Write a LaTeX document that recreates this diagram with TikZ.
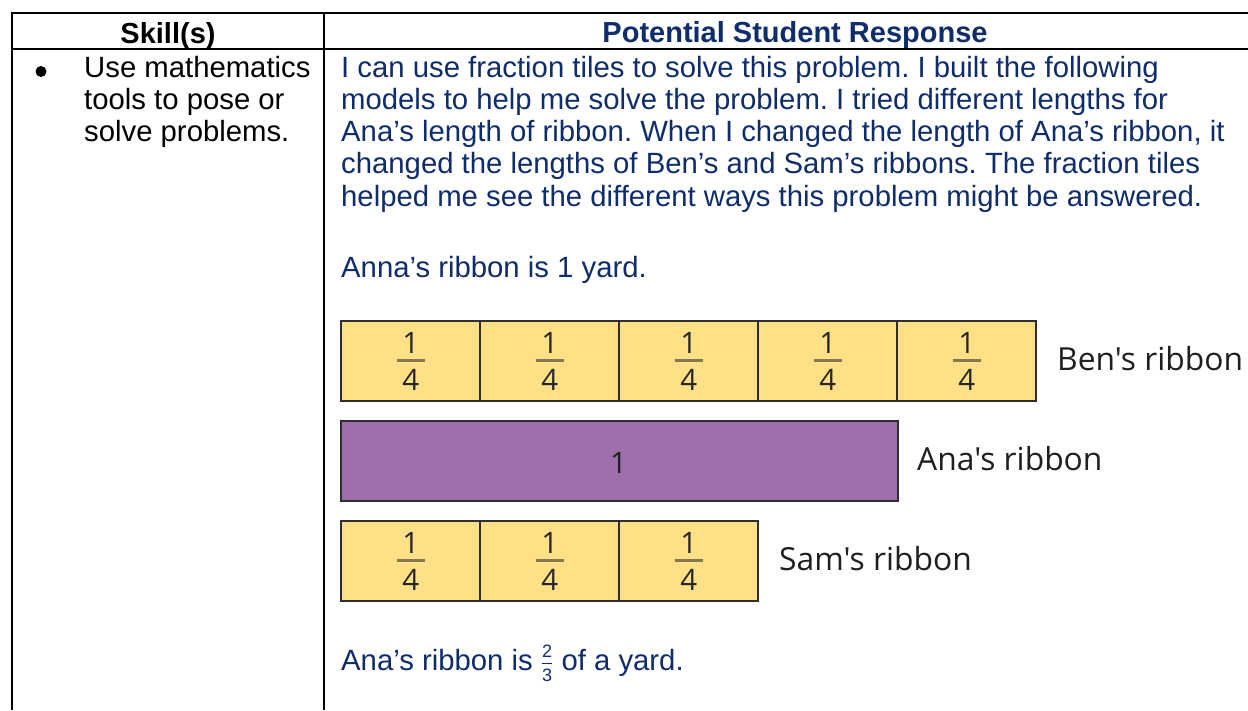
\documentclass[tikz,border=0pt]{standalone}
\usepackage{fontspec}
\usepackage{amsmath}
\setmainfont{Liberation Sans}
\newfontfamily\tilefont[Ligatures=TeXOff]{Open Sans}
\usetikzlibrary{calc}
\frenchspacing
\definecolor{navy}{HTML}{0F2C6B}
\definecolor{tileyellow}{HTML}{FFE086}
\definecolor{ribbonpurple}{HTML}{9F6FAD}
\definecolor{tileedge}{HTML}{2E2E2E}
\definecolor{fracbar}{HTML}{857850}
\definecolor{numgray}{HTML}{262626}
\tikzset{
  rule/.style={line width=2pt, black},
  body/.style={font=\fontsize{29.3}{32.3}\selectfont, inner sep=0pt, anchor=base west},
  hdr/.style={font=\bfseries\fontsize{29}{32.3}\selectfont, inner sep=0pt, anchor=base},
  tile/.style={draw=tileedge, line width=2.4pt, fill=tileyellow, minimum width=139pt, minimum height=80pt, inner sep=0pt, anchor=north west},
  wholebar/.style={draw=tileedge, line width=2.4pt, fill=ribbonpurple, minimum width=557pt, minimum height=80pt, inner sep=0pt, anchor=north west},
  num/.style={font=\tilefont\fontsize{29.5}{32}\selectfont, text=numgray, anchor=base, inner sep=0pt},
  fbar/.style={draw=fracbar, line width=3pt},
  riblabel/.style={font=\tilefont\fontsize{31.8}{36}\selectfont, text=black!88, anchor=base west, inner sep=0pt}
}
\newcommand\qtile[3]{%
  \node[tile] (#1) at (#2,#3) {};
  \node[num] (#1n) at ($(#1.north)+(0,33)$) {1};
  \draw[fbar] ($(#1.north)+(-14,40.5)$) -- ($(#1.north)+(14,40.5)$);
  \node[num] (#1d) at ($(#1.north)+(0,70.5)$) {4};
}
\newcommand\smallfig[2]{\raisebox{#1}{\fontsize{18}{18}\selectfont #2}}
\begin{document}
\begin{tikzpicture}[x=1pt,y=-1pt]
\useasboundingbox (0,0) rectangle (1248,710);
\fill[white] (0,0) rectangle (1248,710);
% table rules
\draw[rule] (11,13) -- (1248,13);
\draw[rule] (11,49) -- (1248,49);
\draw[rule] (12,12) -- (12,710);
\draw[rule] (324,12) -- (324,710);
% headers
\node[hdr] (h1) at (168,43) {Skill(s)};
\node[hdr, text=navy] (h2) at (795,42) {Potential Student Response};
% left column
\node[circle, fill=black, minimum size=11pt, inner sep=0pt] (bullet) at (41,71.5) {};
\node[body] (l1) at (84,77) {Use mathematics};
\node[body] (l2) at (84,109.3) {tools to pose or};
\node[body] (l3) at (84,141.6) {solve problems.};
% right column text
\begin{scope}[every node/.append style={text=navy}]
\node[body] (r1) at (341,77) {I can use fraction tiles to solve this problem. I built the following};
\node[body] (r2) at (341,109.3) {models to help me solve the problem. I tried different lengths for};
\node[body] (r3) at (341,141.6) {Ana’s length of ribbon. When I changed the length of Ana’s ribbon, it};
\node[body] (r4) at (341,173.9) {changed the lengths of Ben’s and Sam’s ribbons. The fraction tiles};
\node[body] (r5) at (341,206.2) {helped me see the different ways this problem might be answered.};
\node[body] (r6) at (341,277) {Anna’s ribbon is 1 yard.};
\node[body] (r7) at (341,670) {Ana’s ribbon is \(\genfrac{}{}{1pt}{1}{\smallfig{3pt}{2}}{\smallfig{-3pt}{3}}\) of a yard.};
\end{scope}
% Ben's ribbon
\qtile{b1}{340}{320}
\qtile{b2}{479}{320}
\qtile{b3}{618}{320}
\qtile{b4}{757}{320}
\qtile{b5}{896}{320}
\node[riblabel] (benlab) at (1057,370) {Ben's ribbon};
% Ana's ribbon
\node[wholebar] (ana) at (340,420) {};
\node[num, text=black!88] (anaone) at (618.5,473) {1};
\node[riblabel] (analab) at (917,470) {Ana's ribbon};
% Sam's ribbon
\qtile{s1}{340}{520}
\qtile{s2}{479}{520}
\qtile{s3}{618}{520}
\node[riblabel] (samlab) at (779,570) {Sam's ribbon};
\end{tikzpicture}
\end{document}
